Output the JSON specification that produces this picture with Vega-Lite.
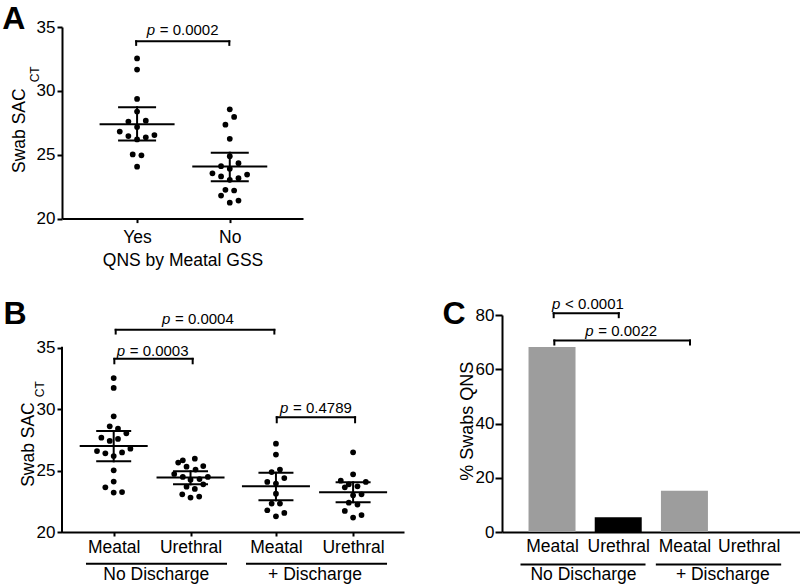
{
  "$schema": "https://vega.github.io/schema/vega-lite/v6.json",
  "padding": {"left": 2, "top": 3, "right": 0, "bottom": 0},
  "bounds": "flush",
  "spacing": 96,
  "config": {
    "view": {"stroke": null},
    "font": "Liberation Sans",
    "axis": {"domainColor": "#000", "domainWidth": 2, "tickColor": "#000", "tickWidth": 2, "tickSize": 5, "labelColor": "#000", "labelFontSize": 17, "labelFont": "Liberation Sans", "grid": false, "titleColor": "#000", "titleFont": "Liberation Sans", "titleFontSize": 17.5, "titleFontWeight": "normal", "labelPadding": 2, "labelFlush": false, "labelOverlap": false}
  },
  "datasets": {
    "ptsA": [
      {"g": "Yes", "x": 0.81, "y": 32.54}, {"g": "Yes", "x": 0.81, "y": 31.67}, {"g": "Yes", "x": 0.81, "y": 29.37}, {"g": "Yes", "x": 0.81, "y": 28.38},
      {"g": "Yes", "x": 0.716, "y": 27.6}, {"g": "Yes", "x": 0.904, "y": 27.67}, {"g": "Yes", "x": 0.81, "y": 27.17},
      {"g": "Yes", "x": 0.623, "y": 26.81}, {"g": "Yes", "x": 0.716, "y": 26.46}, {"g": "Yes", "x": 0.81, "y": 26.2}, {"g": "Yes", "x": 0.904, "y": 26.36}, {"g": "Yes", "x": 0.997, "y": 26.54},
      {"g": "Yes", "x": 0.763, "y": 25.02}, {"g": "Yes", "x": 0.857, "y": 24.95}, {"g": "Yes", "x": 0.81, "y": 24.06},
      {"g": "No", "x": 1.81, "y": 28.56}, {"g": "No", "x": 1.857, "y": 27.96}, {"g": "No", "x": 1.763, "y": 27.35}, {"g": "No", "x": 1.81, "y": 26.25}, {"g": "No", "x": 1.81, "y": 24.89},
      {"g": "No", "x": 1.716, "y": 24.1}, {"g": "No", "x": 1.81, "y": 23.9}, {"g": "No", "x": 1.904, "y": 24.34},
      {"g": "No", "x": 1.623, "y": 23.55}, {"g": "No", "x": 1.716, "y": 23.3}, {"g": "No", "x": 1.81, "y": 23.04}, {"g": "No", "x": 1.904, "y": 23.16}, {"g": "No", "x": 1.997, "y": 23.45},
      {"g": "No", "x": 1.763, "y": 22.25}, {"g": "No", "x": 1.857, "y": 22.2},
      {"g": "No", "x": 1.716, "y": 21.8}, {"g": "No", "x": 1.81, "y": 21.25}, {"g": "No", "x": 1.904, "y": 21.41}
    ],
    "statsA": [
      {"g": "Yes", "k": "mean", "x": 0.81, "y": 27.38}, {"g": "Yes", "k": "lo", "x": 0.81, "y": 26.12}, {"g": "Yes", "k": "hi", "x": 0.81, "y": 28.72},
      {"g": "No", "k": "mean", "x": 1.81, "y": 24.08}, {"g": "No", "k": "lo", "x": 1.81, "y": 22.93}, {"g": "No", "k": "hi", "x": 1.81, "y": 25.16}
    ],
    "segA": [
      {"x": 0.81, "y": 26.12, "x2": 0.81, "y2": 28.72},
      {"x": 1.81, "y": 22.93, "x2": 1.81, "y2": 25.16},
      {"x": 0.8, "y": 33.88, "x2": 1.805, "y2": 33.88},
      {"x": 0.8, "y": 33.88, "x2": 0.8, "y2": 33.6},
      {"x": 1.805, "y": 33.88, "x2": 1.805, "y2": 33.6}
    ],
    "pA": [{"x": 0.914, "y": 34.35, "r": "= 0.0002"}],
    "labA": [
      {"k": "letter", "x": -0.644, "y": 34.82, "t": "A"},
      {"k": "title", "x": -0.399, "y": 30.2, "t": "Swab SAC"},
      {"k": "sub", "x": -0.245, "y": 30.67, "t": "CT"}
    ],
    "ptsB": [
      {"g": "Meatal ND", "x": 0.65, "y": 32.53}, {"g": "Meatal ND", "x": 0.65, "y": 31.72}, {"g": "Meatal ND", "x": 0.65, "y": 29.41},
      {"g": "Meatal ND", "x": 0.6, "y": 28.6}, {"g": "Meatal ND", "x": 0.704, "y": 28.41}, {"g": "Meatal ND", "x": 0.809, "y": 28.03},
      {"g": "Meatal ND", "x": 0.495, "y": 27.68}, {"g": "Meatal ND", "x": 0.6, "y": 27.41}, {"g": "Meatal ND", "x": 0.704, "y": 27.57},
      {"g": "Meatal ND", "x": 0.44, "y": 26.59}, {"g": "Meatal ND", "x": 0.545, "y": 26.4}, {"g": "Meatal ND", "x": 0.65, "y": 26.18}, {"g": "Meatal ND", "x": 0.755, "y": 26.48}, {"g": "Meatal ND", "x": 0.86, "y": 26.78},
      {"g": "Meatal ND", "x": 0.65, "y": 25.02}, {"g": "Meatal ND", "x": 0.65, "y": 24.1}, {"g": "Meatal ND", "x": 0.545, "y": 23.64}, {"g": "Meatal ND", "x": 0.65, "y": 23.21}, {"g": "Meatal ND", "x": 0.755, "y": 23.25},
      {"g": "Urethral ND", "x": 1.519, "y": 25.83}, {"g": "Urethral ND", "x": 1.461, "y": 25.65}, {"g": "Urethral ND", "x": 1.67, "y": 25.97},
      {"g": "Urethral ND", "x": 1.566, "y": 25.32}, {"g": "Urethral ND", "x": 1.679, "y": 25.08}, {"g": "Urethral ND", "x": 1.776, "y": 25.37},
      {"g": "Urethral ND", "x": 1.411, "y": 24.72}, {"g": "Urethral ND", "x": 1.519, "y": 24.48}, {"g": "Urethral ND", "x": 1.616, "y": 24.26}, {"g": "Urethral ND", "x": 1.729, "y": 24.31}, {"g": "Urethral ND", "x": 1.834, "y": 24.48},
      {"g": "Urethral ND", "x": 1.776, "y": 23.88}, {"g": "Urethral ND", "x": 1.566, "y": 23.69}, {"g": "Urethral ND", "x": 1.67, "y": 23.5},
      {"g": "Urethral ND", "x": 1.512, "y": 23.07}, {"g": "Urethral ND", "x": 1.616, "y": 22.8}, {"g": "Urethral ND", "x": 1.725, "y": 22.88},
      {"g": "Meatal D", "x": 2.69, "y": 27.19}, {"g": "Meatal D", "x": 2.69, "y": 26.3}, {"g": "Meatal D", "x": 2.636, "y": 24.88}, {"g": "Meatal D", "x": 2.74, "y": 25.08},
      {"g": "Meatal D", "x": 2.581, "y": 24.07}, {"g": "Meatal D", "x": 2.69, "y": 23.94}, {"g": "Meatal D", "x": 2.795, "y": 24.39}, {"g": "Meatal D", "x": 2.69, "y": 23.12},
      {"g": "Meatal D", "x": 2.636, "y": 22.31}, {"g": "Meatal D", "x": 2.74, "y": 22.31}, {"g": "Meatal D", "x": 2.581, "y": 21.77}, {"g": "Meatal D", "x": 2.69, "y": 21.28}, {"g": "Meatal D", "x": 2.795, "y": 21.55},
      {"g": "Urethral D", "x": 3.66, "y": 26.49}, {"g": "Urethral D", "x": 3.66, "y": 24.69}, {"g": "Urethral D", "x": 3.505, "y": 24.18}, {"g": "Urethral D", "x": 3.82, "y": 24.07},
      {"g": "Urethral D", "x": 3.556, "y": 23.64}, {"g": "Urethral D", "x": 3.606, "y": 23.88}, {"g": "Urethral D", "x": 3.715, "y": 23.72}, {"g": "Urethral D", "x": 3.66, "y": 22.99},
      {"g": "Urethral D", "x": 3.766, "y": 23.07}, {"g": "Urethral D", "x": 3.606, "y": 22.39}, {"g": "Urethral D", "x": 3.715, "y": 22.23}, {"g": "Urethral D", "x": 3.556, "y": 21.71},
      {"g": "Urethral D", "x": 3.66, "y": 21.17}, {"g": "Urethral D", "x": 3.766, "y": 21.38}
    ],
    "statsB": [
      {"g": "Meatal ND", "k": "mean", "x": 0.65, "y": 27.0}, {"g": "Meatal ND", "k": "lo", "x": 0.65, "y": 25.75}, {"g": "Meatal ND", "k": "hi", "x": 0.65, "y": 28.22},
      {"g": "Urethral ND", "k": "mean", "x": 1.616, "y": 24.43}, {"g": "Urethral ND", "k": "lo", "x": 1.616, "y": 23.88}, {"g": "Urethral ND", "k": "hi", "x": 1.616, "y": 24.94},
      {"g": "Meatal D", "k": "mean", "x": 2.69, "y": 23.72}, {"g": "Meatal D", "k": "lo", "x": 2.69, "y": 22.58}, {"g": "Meatal D", "k": "hi", "x": 2.69, "y": 24.83},
      {"g": "Urethral D", "k": "mean", "x": 3.66, "y": 23.23}, {"g": "Urethral D", "k": "lo", "x": 3.66, "y": 22.42}, {"g": "Urethral D", "k": "hi", "x": 3.66, "y": 24.04}
    ],
    "segB": [
      {"x": 0, "y": 20, "x2": 0, "y2": 35},
      {"x": 0.65, "y": 25.75, "x2": 0.65, "y2": 28.22},
      {"x": 1.616, "y": 23.88, "x2": 1.616, "y2": 24.94},
      {"x": 2.69, "y": 22.58, "x2": 2.69, "y2": 24.83},
      {"x": 3.66, "y": 22.42, "x2": 3.66, "y2": 24.04},
      {"x": 0.675, "y": 36.45, "x2": 2.67, "y2": 36.45}, {"x": 0.675, "y": 36.45, "x2": 0.675, "y2": 36.15}, {"x": 2.67, "y": 36.45, "x2": 2.67, "y2": 36.15},
      {"x": 0.658, "y": 34.09, "x2": 1.643, "y2": 34.09}, {"x": 0.658, "y": 34.09, "x2": 0.658, "y2": 33.73}, {"x": 1.643, "y": 34.09, "x2": 1.643, "y2": 33.73},
      {"x": 2.7, "y": 29.34, "x2": 3.685, "y2": 29.34}, {"x": 2.7, "y": 29.34, "x2": 2.7, "y2": 28.93}, {"x": 3.685, "y": 29.34, "x2": 3.685, "y2": 28.93},
      {"x": 0.314, "y": 17.41, "x2": 2.062, "y2": 17.41}, {"x": 2.326, "y": 17.41, "x2": 4.074, "y2": 17.41}
    ],
    "pB": [
      {"x": 1.257, "y": 36.94, "r": "= 0.0004"},
      {"x": 0.688, "y": 34.36, "r": "= 0.0003"},
      {"x": 2.741, "y": 29.67, "r": "= 0.4789"}
    ],
    "labB": [
      {"k": "letter", "x": -0.734, "y": 36.94, "t": "B"},
      {"k": "title", "x": -0.357, "y": 30.56, "t": "Swab SAC"},
      {"k": "sub", "x": -0.223, "y": 30.97, "t": "CT"},
      {"k": "group", "x": 1.186, "y": 16.12, "t": "No Discharge"},
      {"k": "group", "x": 3.181, "y": 16.12, "t": "+ Discharge"}
    ],
    "barC": [
      {"x": 0.68, "y": 68.2, "site": "Meatal", "disc": "No Discharge"},
      {"x": 1.68, "y": 5.4, "site": "Urethral", "disc": "No Discharge"},
      {"x": 2.68, "y": 15.2, "site": "Meatal", "disc": "+ Discharge"},
      {"x": 3.65, "y": 0, "site": "Urethral", "disc": "+ Discharge"}
    ],
    "segC": [
      {"x": 0.705, "y": 80.66, "x2": 1.688, "y2": 80.66}, {"x": 0.705, "y": 80.66, "x2": 0.705, "y2": 79.19}, {"x": 1.688, "y": 80.66, "x2": 1.688, "y2": 79.19},
      {"x": 0.715, "y": 70.6, "x2": 2.764, "y2": 70.6}, {"x": 0.715, "y": 70.6, "x2": 0.715, "y2": 69.12}, {"x": 2.764, "y": 70.6, "x2": 2.764, "y2": 69.12},
      {"x": 0.219, "y": -11.98, "x2": 2.077, "y2": -11.98}, {"x": 2.263, "y": -11.98, "x2": 4.126, "y2": -11.98}
    ],
    "pC": [
      {"x": 0.68, "y": 82.29, "r": "< 0.0001"},
      {"x": 1.182, "y": 72.44, "r": "= 0.0022"}
    ],
    "labC": [
      {"k": "letter", "x": -0.974, "y": 76.76, "t": "C"},
      {"k": "ctitle", "x": -0.506, "y": 40.8, "t": "% Swabs QNS"},
      {"k": "group", "x": 1.155, "y": -17.59, "t": "No Discharge"},
      {"k": "group", "x": 3.26, "y": -17.59, "t": "+ Discharge"}
    ]
  },
  "vconcat": [
    {
      "width": 241,
      "height": 191.6,
      "encoding": {
        "x": {"field": "x", "type": "quantitative", "scale": {"domain": [0, 2.6], "nice": false, "zero": false},
          "axis": {"values": [0.81, 1.81], "labelExpr": "datum.value < 1.3 ? 'Yes' : 'No'", "title": "QNS by Meatal GSS", "tickSize": 4, "labelPadding": 6, "titlePadding": 5, "labelFontSize": 17.5}},
        "y": {"field": "y", "type": "quantitative", "scale": {"domain": [20, 35], "nice": false, "zero": false},
          "axis": {"values": [20, 25, 30, 35], "title": null, "labelPadding": 2}}
      },
      "layer": [
        {"data": {"name": "ptsA"}, "mark": {"type": "circle", "size": 33, "opacity": 1, "color": "#000"}},
        {"data": {"name": "statsA"}, "transform": [{"filter": "datum.k == 'mean'"}], "mark": {"type": "tick", "orient": "horizontal", "size": 75, "thickness": 2, "color": "#000", "opacity": 1}},
        {"data": {"name": "statsA"}, "transform": [{"filter": "datum.k != 'mean'"}], "mark": {"type": "tick", "orient": "horizontal", "size": 38, "thickness": 2, "color": "#000", "opacity": 1}},
        {"data": {"name": "segA"}, "mark": {"type": "rule", "strokeWidth": 2, "color": "#000", "strokeCap": "square"},
          "encoding": {"x2": {"field": "x2"}, "y2": {"field": "y2"}}},
        {"data": {"name": "pA"}, "mark": {"type": "text", "align": "left", "baseline": "alphabetic", "fontSize": 15, "fontStyle": "italic"},
          "encoding": {"text": {"value": "p"}}},
        {"data": {"name": "pA"}, "mark": {"type": "text", "align": "left", "baseline": "alphabetic", "fontSize": 15, "dx": 13},
          "encoding": {"text": {"field": "r"}}},
        {"data": {"name": "labA"}, "transform": [{"filter": "datum.k == 'letter'"}], "mark": {"type": "text", "align": "left", "baseline": "alphabetic", "fontSize": 32, "fontWeight": "bold"},
          "encoding": {"text": {"field": "t"}}},
        {"data": {"name": "labA"}, "transform": [{"filter": "datum.k == 'title'"}], "mark": {"type": "text", "angle": 270, "align": "right", "baseline": "alphabetic", "fontSize": 17.5},
          "encoding": {"text": {"field": "t"}}},
        {"data": {"name": "labA"}, "transform": [{"filter": "datum.k == 'sub'"}], "mark": {"type": "text", "angle": 270, "align": "left", "baseline": "alphabetic", "fontSize": 12},
          "encoding": {"text": {"field": "t"}}}
      ]
    },
    {
      "bounds": "flush",
      "spacing": 98,
      "hconcat": [
        {
          "width": 342,
          "height": 217,
          "encoding": {
            "x": {"field": "x", "type": "quantitative", "scale": {"domain": [0, 4.3], "nice": false, "zero": false},
              "axis": {"values": [0.65, 1.616, 2.69, 3.66], "labelExpr": "(datum.value < 1 || (datum.value > 2 && datum.value < 3)) ? 'Meatal' : 'Urethral'", "title": null, "tickSize": 4, "labelPadding": 2, "labelFontSize": 17.5}},
            "y": {"field": "y", "type": "quantitative", "scale": {"domain": [20, 37.66], "nice": false, "zero": false},
              "axis": {"values": [20, 25, 30, 35], "title": null, "domain": false, "labelPadding": 2}}
          },
          "layer": [
            {"data": {"name": "ptsB"}, "mark": {"type": "circle", "size": 33, "opacity": 1, "color": "#000"}},
            {"data": {"name": "statsB"}, "transform": [{"filter": "datum.k == 'mean'"}], "mark": {"type": "tick", "orient": "horizontal", "size": 68, "thickness": 2, "color": "#000", "opacity": 1}},
            {"data": {"name": "statsB"}, "transform": [{"filter": "datum.k != 'mean'"}], "mark": {"type": "tick", "orient": "horizontal", "size": 35, "thickness": 2, "color": "#000", "opacity": 1}},
            {"data": {"name": "segB"}, "mark": {"type": "rule", "strokeWidth": 2, "color": "#000", "strokeCap": "square"},
              "encoding": {"x2": {"field": "x2"}, "y2": {"field": "y2"}}},
            {"data": {"name": "pB"}, "mark": {"type": "text", "align": "left", "baseline": "alphabetic", "fontSize": 15, "fontStyle": "italic"},
              "encoding": {"text": {"value": "p"}}},
            {"data": {"name": "pB"}, "mark": {"type": "text", "align": "left", "baseline": "alphabetic", "fontSize": 15, "dx": 13},
              "encoding": {"text": {"field": "r"}}},
            {"data": {"name": "labB"}, "transform": [{"filter": "datum.k == 'letter'"}], "mark": {"type": "text", "align": "left", "baseline": "alphabetic", "fontSize": 32, "fontWeight": "bold"},
              "encoding": {"text": {"field": "t"}}},
            {"data": {"name": "labB"}, "transform": [{"filter": "datum.k == 'title'"}], "mark": {"type": "text", "angle": 270, "align": "right", "baseline": "alphabetic", "fontSize": 17.5},
              "encoding": {"text": {"field": "t"}}},
            {"data": {"name": "labB"}, "transform": [{"filter": "datum.k == 'sub'"}], "mark": {"type": "text", "angle": 270, "align": "left", "baseline": "alphabetic", "fontSize": 12},
              "encoding": {"text": {"field": "t"}}},
            {"data": {"name": "labB"}, "transform": [{"filter": "datum.k == 'group'"}], "mark": {"type": "text", "align": "center", "baseline": "alphabetic", "fontSize": 17.5},
              "encoding": {"text": {"field": "t"}}}
          ]
        },
        {
          "width": 298,
          "height": 217,
          "encoding": {
            "x": {"field": "x", "type": "quantitative", "scale": {"domain": [0, 4.35], "nice": false, "zero": false},
              "axis": {"values": [0.68, 1.68, 2.68, 3.65], "labelExpr": "(datum.value < 1 || (datum.value > 2 && datum.value < 3)) ? 'Meatal' : 'Urethral'", "title": null, "ticks": false, "tickSize": 0, "labelPadding": 5, "labelFontSize": 17.5}},
            "y": {"field": "y", "type": "quantitative", "scale": {"domain": [0, 80], "nice": false, "zero": true},
              "axis": {"values": [0, 20, 40, 60, 80], "title": null, "tickSize": 7, "labelPadding": 1}}
          },
          "layer": [
            {"data": {"name": "barC"}, "mark": {"type": "bar", "width": 47, "opacity": 1},
              "encoding": {"color": {"field": "site", "type": "nominal", "scale": {"domain": ["Meatal", "Urethral"], "range": ["#9d9d9d", "#000000"]}, "legend": null}}},
            {"data": {"name": "segC"}, "mark": {"type": "rule", "strokeWidth": 2, "color": "#000", "strokeCap": "square"},
              "encoding": {"x2": {"field": "x2"}, "y2": {"field": "y2"}}},
            {"data": {"name": "pC"}, "mark": {"type": "text", "align": "left", "baseline": "alphabetic", "fontSize": 15, "fontStyle": "italic"},
              "encoding": {"text": {"value": "p"}}},
            {"data": {"name": "pC"}, "mark": {"type": "text", "align": "left", "baseline": "alphabetic", "fontSize": 15, "dx": 13},
              "encoding": {"text": {"field": "r"}}},
            {"data": {"name": "labC"}, "transform": [{"filter": "datum.k == 'letter'"}], "mark": {"type": "text", "align": "left", "baseline": "alphabetic", "fontSize": 32, "fontWeight": "bold"},
              "encoding": {"text": {"field": "t"}}},
            {"data": {"name": "labC"}, "transform": [{"filter": "datum.k == 'ctitle'"}], "mark": {"type": "text", "angle": 270, "align": "center", "baseline": "alphabetic", "fontSize": 18},
              "encoding": {"text": {"field": "t"}}},
            {"data": {"name": "labC"}, "transform": [{"filter": "datum.k == 'group'"}], "mark": {"type": "text", "align": "center", "baseline": "alphabetic", "fontSize": 17.5},
              "encoding": {"text": {"field": "t"}}}
          ]
        }
      ]
    }
  ]
}
